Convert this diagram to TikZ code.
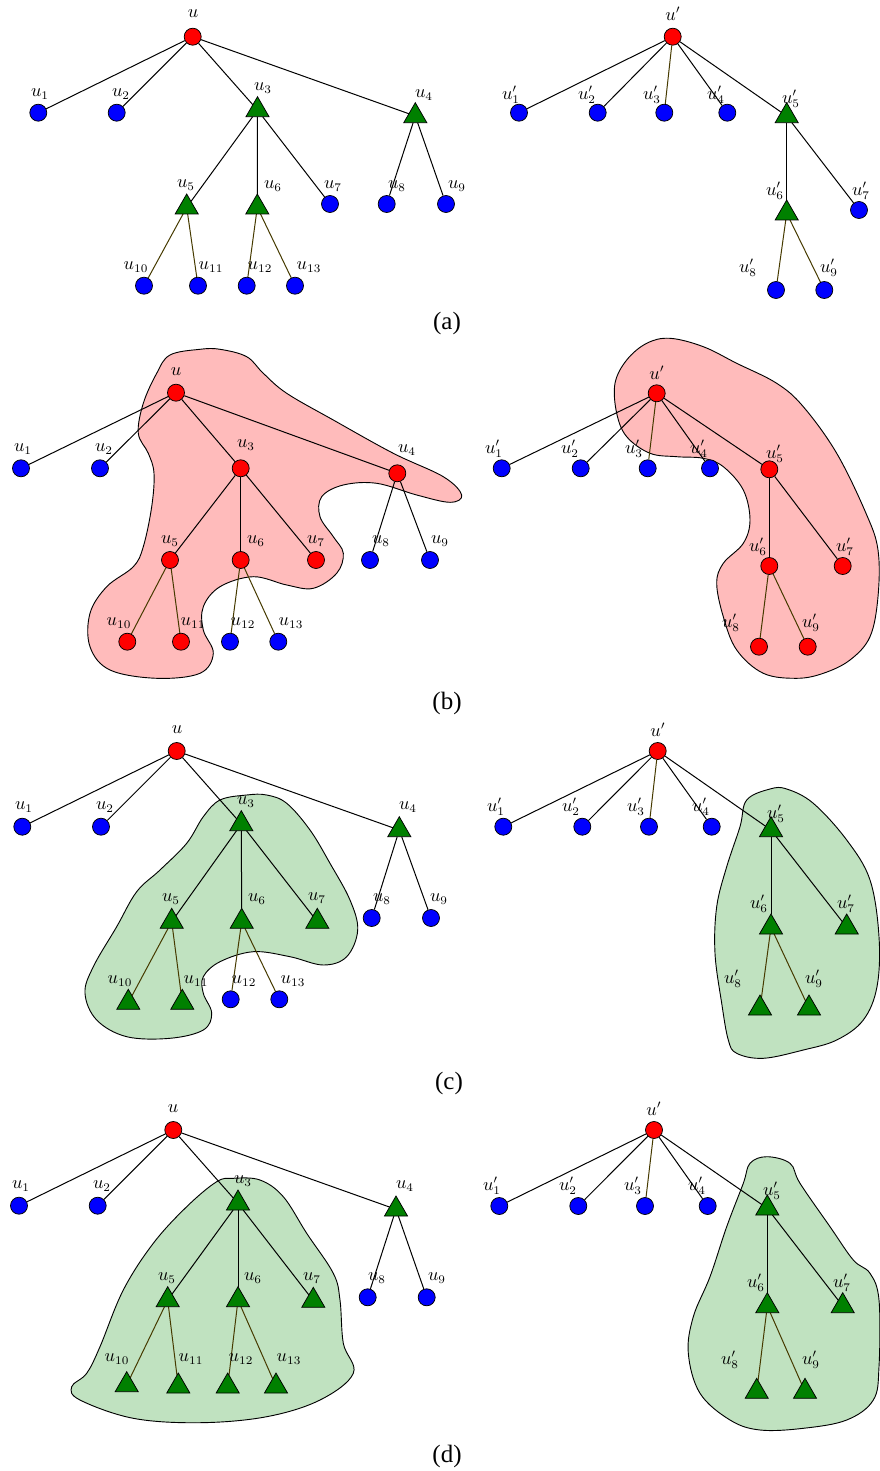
\documentclass[tikz,border=0pt]{standalone}
\usepackage{fontspec}
\newfontfamily\capfont{Liberation Serif}
\usetikzlibrary{shapes.geometric}
\pgfdeclarelayer{blob}
\pgfdeclarelayer{edges}
\pgfsetlayers{blob,edges,main}
\definecolor{pinkfill}{RGB}{255,187,187}
\definecolor{greenfill}{RGB}{192,226,192}
\definecolor{trigreen}{RGB}{0,128,0}
\definecolor{olivec}{RGB}{70,58,0}
\tikzset{
  vtx/.style={circle, draw=black, line width=0.45pt, inner sep=0pt, minimum size=10.2pt},
  rv/.style={vtx, fill=red},
  bv/.style={vtx, fill=blue},
  gt/.style={regular polygon, regular polygon sides=3, draw=black, line width=0.45pt, fill=trigreen, inner sep=0pt, outer sep=0pt, minimum size=16pt, anchor=corner 1},
  lab/.style={font=\fontsize{10.5}{12}\selectfont, inner sep=0pt},
  edg/.style={line width=0.6pt, draw=black},
  oedg/.style={line width=0.6pt, draw=olivec},
  blobR/.style={draw=black, fill=pinkfill, line width=0.55pt},
  blobG/.style={draw=black, fill=greenfill, line width=0.55pt},
  captext/.style={font=\capfont\fontsize{15}{17}\selectfont, inner sep=0pt}
}
\newcommand\V[5]{\node[#1] (#2) at (#3) {}; \node[lab] (#2l) at (#4) {$#5$};}
\newcommand\LeftEdges[1]{%
  \begin{pgfonlayer}{edges}
  \draw[edg] (#1u) -- (#11); \draw[edg] (#1u) -- (#12);
  \draw[edg] (#1u) -- (#13); \draw[edg] (#1u) -- (#14);
  \draw[edg] (#13) -- (#15); \draw[edg] (#13) -- (#16); \draw[edg] (#13) -- (#17);
  \draw[edg] (#14) -- (#18); \draw[edg] (#14) -- (#19);
  \draw[oedg] (#15) -- (#110); \draw[oedg] (#15) -- (#111);
  \draw[oedg] (#16) -- (#112); \draw[oedg] (#16) -- (#113);
  \end{pgfonlayer}}
\newcommand\RightEdges[1]{%
  \begin{pgfonlayer}{edges}
  \draw[edg] (#1u) -- (#11); \draw[edg] (#1u) -- (#12);
  \draw[oedg] (#1u) -- (#13); \draw[edg] (#1u) -- (#14);
  \draw[edg] (#1u) -- (#15);
  \draw[edg] (#15) -- (#16); \draw[edg] (#15) -- (#17);
  \draw[oedg] (#16) -- (#18); \draw[oedg] (#16) -- (#19);
  \end{pgfonlayer}}
\begin{document}
\begin{tikzpicture}[x=0.6pt,y=-0.6pt]
\useasboundingbox (0,0) rectangle (880,1471);

% ---------------- panel (a) ----------------
\V{rv}{au}{192.7,36.7}{193,14}{u}
\V{bv}{a1}{38.3,112.7}{40,94}{u_1}
\V{bv}{a2}{116.7,112.7}{121,94}{u_2}
\V{gt}{a3}{257.5,96.7}{263,88}{u_3}
\V{gt}{a4}{415.3,102.7}{424,95}{u_4}
\V{gt}{a5}{186.7,194}{186,185}{u_5}
\V{gt}{a6}{257.3,194}{273,186}{u_6}
\V{bv}{a7}{330,204}{333,186}{u_7}
\V{bv}{a8}{386.7,204}{397,186}{u_8}
\V{bv}{a9}{446,204}{457,186}{u_9}
\V{bv}{a10}{144,285.7}{136,267}{u_{10}}
\V{bv}{a11}{198,285.7}{211,267}{u_{11}}
\V{bv}{a12}{246.7,285.7}{260,267}{u_{12}}
\V{bv}{a13}{295,285.7}{309,267}{u_{13}}
\LeftEdges{a}

\V{rv}{apu}{672.7,36.7}{673,14}{u'}
\V{bv}{ap1}{519,112.7}{511,95}{u'_1}
\V{bv}{ap2}{597.7,112.7}{587,95}{u'_2}
\V{bv}{ap3}{664.3,112.7}{652,95}{u'_3}
\V{bv}{ap4}{727.3,112.7}{716,95}{u'_4}
\V{gt}{ap5}{786.7,102.7}{791,99}{u'_5}
\V{gt}{ap6}{786.7,200}{775,191}{u'_6}
\V{bv}{ap7}{859,210}{861,191}{u'_7}
\V{bv}{ap8}{776,290}{748,268}{u'_8}
\V{bv}{ap9}{824.3,290}{829,268}{u'_9}
\RightEdges{ap}
\node[captext] (capa) at (447,323) {(a)};

% ---------------- panel (b) ----------------
\begin{pgfonlayer}{blob}
\draw[blobR] plot[smooth cycle, tension=0.6] coordinates {
 (200,349.3) (170,355) (156.7,373.3) (143.3,403.3) (138.3,433.3) (148.3,453.3)
 (154,473.3) (151.7,506.7) (143.3,546.7) (133.3,566.7) (106.7,586.7) (90,613.3)
 (90,646.7) (110,670) (156.7,678.3) (200,673.3) (213.3,653.3) (203.3,630)
 (203.3,606.7) (220,586.7) (253.3,576.7) (286.7,585) (313.3,588.3) (336.7,573.3)
 (343.3,553.3) (333.3,536.7) (320,516.7) (321.7,496.7) (343.3,485) (376.7,483.3)
 (416.7,495) (450,502.3) (461.7,495) (443.3,476.7) (393.3,453.3) (333.3,420)
 (286.7,393.3) (263.3,373.3) (246.7,356.7) (220,349.3)};
\draw[blobR] plot[smooth cycle, tension=0.6] coordinates {
 (670,338.3) (703.3,346.7) (736.7,363.3) (776.7,383.3) (803.3,406.7) (836.7,453.3)
 (866,513.3) (878,550) (878,596.7) (870,636.7) (850,660) (823.3,673.3)
 (796.7,678.3) (763.3,673.3) (736.7,650) (723.3,616.7) (716.7,583.3) (723.3,563.3)
 (743.3,543.3) (750,520) (743.3,490) (723.3,466.7) (703.3,458.3) (676.7,456.7)
 (650,453.3) (626.7,436.7) (616.7,413.3) (615,383.3) (626.7,360) (646.7,343.3)};
\end{pgfonlayer}
\V{rv}{bu}{176,392.7}{176,372}{u}
\V{bv}{b1}{21,468.3}{23,449}{u_1}
\V{bv}{b2}{100,468.3}{104,449}{u_2}
\V{rv}{b3}{240.7,468.3}{246,445}{u_3}
\V{rv}{b4}{397.3,473.3}{407,450}{u_4}
\V{rv}{b5}{170,560}{170,541}{u_5}
\V{rv}{b6}{240.7,560}{256,541}{u_6}
\V{rv}{b7}{316,560}{316,541}{u_7}
\V{bv}{b8}{370,560}{381,541}{u_8}
\V{bv}{b9}{430,560}{440,541}{u_9}
\V{rv}{b10}{127.3,641.7}{119,623}{u_{10}}
\V{rv}{b11}{181,641.7}{193,623}{u_{11}}
\V{bv}{b12}{230,641.7}{243,623}{u_{12}}
\V{bv}{b13}{278.3,641.7}{291,623}{u_{13}}
\LeftEdges{b}

\V{rv}{bpu}{656.7,393.3}{657,373}{u'}
\V{bv}{bp1}{501.7,468.3}{494,449}{u'_1}
\V{bv}{bp2}{580.7,468.3}{570,449}{u'_2}
\V{bv}{bp3}{647.7,468.3}{634,449}{u'_3}
\V{bv}{bp4}{710,468.3}{699,449}{u'_4}
\V{rv}{bp5}{769.3,469.3}{775,454}{u'_5}
\V{rv}{bp6}{769.3,566}{758,547}{u'_6}
\V{rv}{bp7}{842.7,566}{845,547}{u'_7}
\V{rv}{bp8}{759,646.7}{731,623}{u'_8}
\V{rv}{bp9}{807.7,646.7}{811,623}{u'_9}
\RightEdges{bp}
\node[captext] (capb) at (447,703) {(b)};

% ---------------- panel (c) ----------------
\begin{pgfonlayer}{blob}
\draw[blobG] plot[smooth cycle, tension=0.6] coordinates {
 (246.7,795) (220,800) (203.3,816.7) (186.7,843.3) (160,870) (136.7,891.7)
 (116.7,926.7) (93.3,966.7) (85,993.3) (96.7,1020) (126.7,1036.7) (170,1038.3)
 (203.3,1030) (211.7,1013.3) (203.3,993.3) (203.3,976.7) (220,961.7) (253.3,951.7)
 (290,956.7) (323.3,965) (346.7,956.7) (357.7,930) (350,900) (330,863.3)
 (310,830) (286.7,803.3) (266.7,795)};
\draw[blobG] plot[smooth cycle, tension=0.6] coordinates {
 (770,789) (746.7,800) (740,826.7) (726.7,866.7) (716.7,906.7) (715,953.3)
 (721.7,1003.3) (728.3,1040) (736.7,1053.3) (763.3,1058.3) (803.3,1050) (836.7,1040)
 (863.3,1020) (877,986.7) (879,936.7) (870,880) (846.7,840) (813.3,803.3) (786.7,789)};
\end{pgfonlayer}
\V{rv}{cu}{176.7,751}{177,730}{u}
\V{bv}{c1}{22.3,826.7}{24,807}{u_1}
\V{bv}{c2}{101,826.7}{105,807}{u_2}
\V{gt}{c3}{241.3,810.7}{246,802}{u_3}
\V{gt}{c4}{399.3,816.7}{408,807}{u_4}
\V{gt}{c5}{171.7,908.3}{171,899}{u_5}
\V{gt}{c6}{241.7,908.3}{257,899}{u_6}
\V{gt}{c7}{317.3,908.3}{317,898}{u_7}
\V{bv}{c8}{371.7,918}{382,899}{u_8}
\V{bv}{c9}{431,918}{439,899}{u_9}
\V{gt}{c10}{128.3,989.3}{120,981}{u_{10}}
\V{gt}{c11}{182.3,989.3}{196,981}{u_{11}}
\V{bv}{c12}{230.7,999.3}{244,981}{u_{12}}
\V{bv}{c13}{279.3,999.3}{293,981}{u_{13}}
\LeftEdges{c}

\V{rv}{cpu}{657.7,751}{658,730}{u'}
\V{bv}{cp1}{503.3,826.7}{496,807}{u'_1}
\V{bv}{cp2}{582.3,826.7}{571,807}{u'_2}
\V{bv}{cp3}{649,826.7}{636,807}{u'_3}
\V{bv}{cp4}{711.7,826.7}{701,807}{u'_4}
\V{gt}{cp5}{771,816.7}{776,814}{u'_5}
\V{gt}{cp6}{771,914}{759,904}{u'_6}
\V{gt}{cp7}{846.7,914}{846,904}{u'_7}
\V{gt}{cp8}{760,995}{733,979}{u'_8}
\V{gt}{cp9}{809,995}{814,979}{u'_9}
\RightEdges{cp}
\node[captext] (capc) at (449,1083) {(c)};

% ---------------- panel (d) ----------------
\begin{pgfonlayer}{blob}
\draw[blobG] plot[smooth cycle, tension=0.6] coordinates {
 (233.3,1178.3) (216.7,1181.7) (186.7,1206.7) (153.3,1243.3) (123.3,1290) (100,1346.7)
 (86.7,1373.3) (71.7,1386.7) (80,1400) (133.3,1418.3) (200,1422.7) (266.7,1416.7)
 (320,1400) (353.3,1373.3) (343.3,1343.3) (340,1300) (333.3,1273.3) (306.7,1233.3)
 (283.3,1196.7) (260,1180)};
\draw[blobG] plot[smooth cycle, tension=0.6] coordinates {
 (766.7,1156.7) (750,1163.3) (743.3,1183.3) (726.7,1226.7) (710,1276.7) (693.3,1316.7)
 (688.3,1353.3) (700,1393.3) (730,1420) (760,1430) (803.3,1428.3) (846.7,1420)
 (873.3,1400) (879,1366.7) (879,1300) (870,1273.3) (853.3,1260) (830,1226.7)
 (800,1183.3) (790,1163.3)};
\end{pgfonlayer}
\V{rv}{du}{173.3,1130}{173,1109}{u}
\V{bv}{d1}{19,1205.7}{21,1186}{u_1}
\V{bv}{d2}{97.7,1205.7}{102,1186}{u_2}
\V{gt}{d3}{238,1190}{243,1181}{u_3}
\V{gt}{d4}{396,1196}{405,1186}{u_4}
\V{gt}{d5}{167.7,1286.7}{167,1278}{u_5}
\V{gt}{d6}{238,1286.7}{253,1278}{u_6}
\V{gt}{d7}{313.3,1287.3}{312,1278}{u_7}
\V{bv}{d8}{367.7,1297.3}{377,1278}{u_8}
\V{bv}{d9}{426.7,1297.3}{437,1278}{u_9}
\V{gt}{d10}{126.7,1371.7}{117,1359}{u_{10}}
\V{gt}{d11}{178.3,1373}{191,1359}{u_{11}}
\V{gt}{d12}{227.7,1373}{241,1359}{u_{12}}
\V{gt}{d13}{276,1373}{289,1359}{u_{13}}
\LeftEdges{d}

\V{rv}{dpu}{654,1130}{654,1109}{u'}
\V{bv}{dp1}{499.3,1206}{492,1186}{u'_1}
\V{bv}{dp2}{578.3,1206}{568,1186}{u'_2}
\V{bv}{dp3}{645,1206}{633,1186}{u'_3}
\V{bv}{dp4}{707.7,1206}{697,1186}{u'_4}
\V{gt}{dp5}{767.3,1195}{772,1191}{u'_5}
\V{gt}{dp6}{767.3,1292.7}{756,1283}{u'_6}
\V{gt}{dp7}{842.7,1292.7}{842,1283}{u'_7}
\V{gt}{dp8}{756.7,1378.3}{730,1360}{u'_8}
\V{gt}{dp9}{805,1378.3}{811,1360}{u'_9}
\RightEdges{dp}
\node[captext] (capd) at (447,1456) {(d)};
\end{tikzpicture}
\end{document}
